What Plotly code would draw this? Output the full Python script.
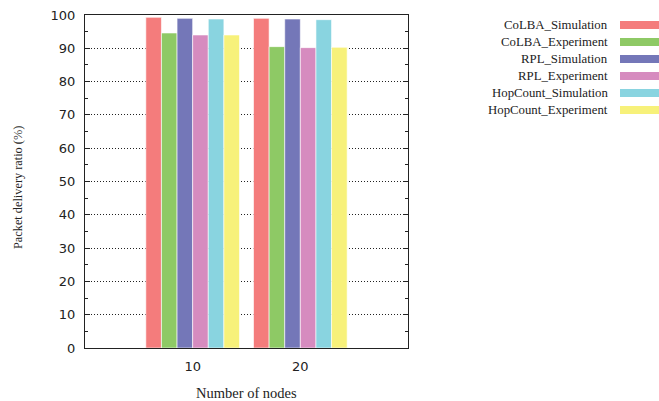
import plotly.graph_objects as go

# Packet delivery ratio per protocol, simulation vs. experiment
nodes = ["10", "20"]
series_names = [
    "CoLBA_Simulation",
    "CoLBA_Experiment",
    "RPL_Simulation",
    "RPL_Experiment",
    "HopCount_Simulation",
    "HopCount_Experiment",
]
colba_sim = [99.3, 99.0]
colba_exp = [94.6, 90.5]
rpl_sim = [99.0, 98.8]
rpl_exp = [94.0, 90.2]
hop_sim = [98.8, 98.6]
hop_exp = [94.0, 90.3]
y_ticks = [0, 10, 20, 30, 40, 50, 60, 70, 80, 90, 100]

series_values = [colba_sim, colba_exp, rpl_sim, rpl_exp, hop_sim, hop_exp]
colors = ["#f47c7c", "#8ec965", "#7477b8", "#d68bbf", "#89d4e0", "#f7f17a"]

W, H = 659, 401
L, R, T, B = 85, 408, 15, 348

fig = go.Figure()
for name, vals, col in zip(series_names, series_values, colors):
    fig.add_trace(go.Bar(
        x=nodes, y=vals, name=name,
        marker=dict(color=col, line=dict(color="rgba(255,255,255,0.6)", width=1)),
        showlegend=False,
    ))

serif = "Liberation Serif, Times New Roman, serif"
sans = "DejaVu Sans, sans-serif"

def px_x(px):
    return (px - L) / (R - L)

def px_y(py):
    return (B - py) / (B - T)

annotations = []
shapes = []
# Key on the right: label right-aligned, colour swatch after it
row_y = [25, 42, 59, 76, 93, 110]
for name, col, yy in zip(series_names, colors, row_y):
    annotations.append(dict(
        x=px_x(610), y=px_y(yy), xref="paper", yref="paper",
        text=name, showarrow=False, xanchor="right", yanchor="middle",
        font=dict(family=serif, size=12.8, color="#222"),
    ))
    shapes.append(dict(
        type="rect", xref="paper", yref="paper",
        x0=px_x(620), x1=px_x(659), y0=px_y(yy - 4), y1=px_y(yy + 4),
        fillcolor=col, line=dict(width=0),
    ))

annotations.append(dict(
    x=px_x(18), y=px_y(188), xref="paper", yref="paper", text="Packet delivery ratio (%)",
    showarrow=False, textangle=-90, xanchor="center", yanchor="middle",
    font=dict(family=serif, size=12.3, color="#222"),
))
annotations.append(dict(
    x=0.5, y=px_y(393), xref="paper", yref="paper", text="Number of nodes",
    showarrow=False, xanchor="center", yanchor="middle",
    font=dict(family=serif, size=14.5, color="#222"),
))

fig.update_layout(
    width=W, height=H,
    margin=dict(l=L, r=W - R, t=T, b=H - B, autoexpand=False),
    plot_bgcolor="white", paper_bgcolor="white",
    barmode="group", bargap=0.13, bargroupgap=0,
    annotations=annotations, shapes=shapes,
    xaxis=dict(
        type="category", range=[-1, 2],
        showline=True, linecolor="#222", linewidth=1, mirror=True,
        ticks="", showgrid=False, ticklabelstandoff=6,
        tickfont=dict(family=sans, size=13, color="#222"),
    ),
    yaxis=dict(
        range=[0, 100], tickvals=y_ticks,
        showline=True, linecolor="#222", linewidth=1, mirror="ticks",
        ticks="inside", ticklen=5, tickcolor="#222",
        minor=dict(dtick=5, ticks="inside", ticklen=3, tickcolor="#222", showgrid=False),
        showgrid=True, gridcolor="#222", griddash="1px,2px", gridwidth=1,
        zeroline=False, ticklabelstandoff=6,
        tickfont=dict(family=sans, size=13, color="#222"),
    ),
)

fig.write_html("out.html")
